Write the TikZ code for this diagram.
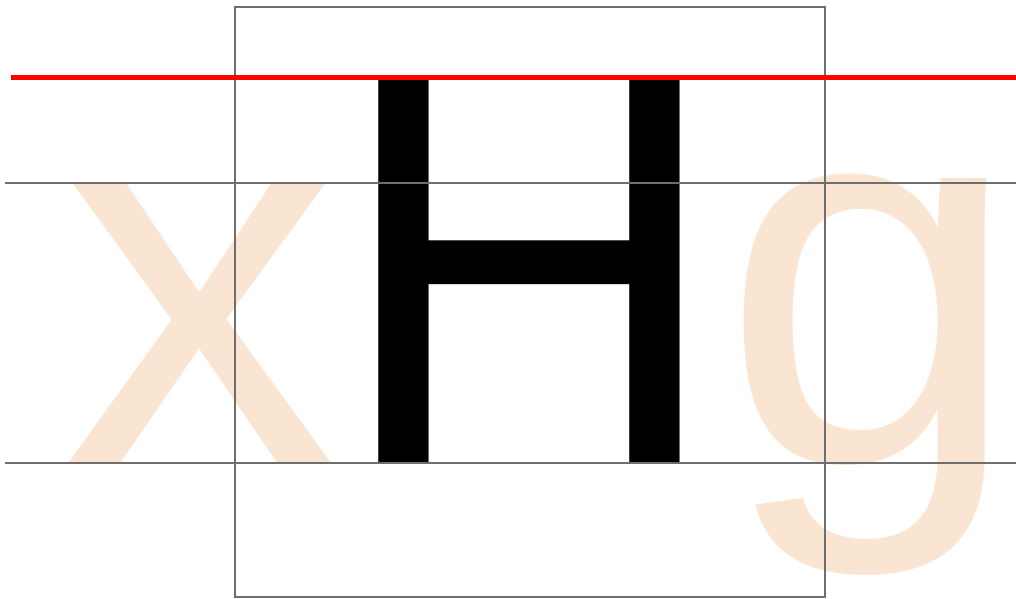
\documentclass[tikz,border=0pt]{standalone}
\usepackage{fontspec}
\setmainfont{Liberation Sans}
\usepackage{xcolor}
\usepackage{tikz}

\definecolor{peach}{RGB}{250,229,211}
\definecolor{guidegray}{RGB}{110,110,110}

\begin{document}
\begin{tikzpicture}[x=0.02cm, y=-0.02cm,
    glyph/.style={inner sep=0pt, anchor=base west, transform shape,
      font=\fontsize{307}{307}\selectfont},
    guide/.style={guidegray, line width=1.1pt}]
  \useasboundingbox (0,0) rectangle (1016,598);

  % Letters
  \node[glyph, text=peach, xscale=1.02, yscale=0.98] (x) at (62,463) {x};
  \node[glyph, text=black, yscale=1.04] (H) at (334,463) {H};
  \node[glyph, text=peach] (g) at (721,463) {g};

  % x-height and baseline
  \draw[guide] (5,183) -- (1016,183);
  \draw[guide] (5,463) -- (1016,463);

  % Box round the H
  \draw[guide] (235,7) rectangle (825,597);

  % Cap height
  \draw[red, line width=2.3pt] (11,77.5) -- (1016,77.5);
\end{tikzpicture}
\end{document}
